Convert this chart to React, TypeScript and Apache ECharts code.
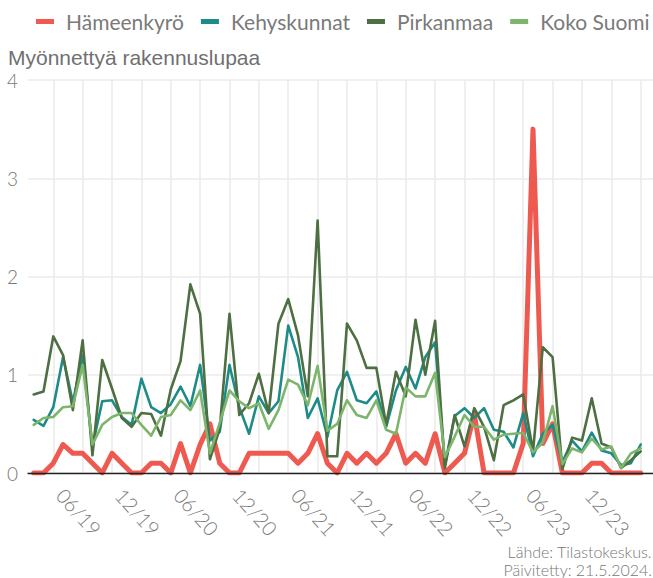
import React, { useEffect, useRef } from "react";
import * as echarts from "echarts";

// Monthly categories, 04/19 ... 06/24 (63 points)
const START_YEAR = 2019;
const START_MONTH = 4;
const N_POINTS = 63;
const months: string[] = [];
for (let i = 0; i < N_POINTS; i++) {
  const m = ((START_MONTH - 1 + i) % 12) + 1;
  const y = START_YEAR + Math.floor((START_MONTH - 1 + i) / 12);
  months.push(`${String(m).padStart(2, "0")}/${String(y % 100).padStart(2, "0")}`);
}

const seriesNames = ["Hämeenkyrö", "Kehyskunnat", "Pirkanmaa", "Koko Suomi"];
const seriesColors = ["#EE5950", "#1D8C88", "#4D6F42", "#7DB56C"];

const hameenkyro = [
  0, 0, 0.1, 0.29, 0.2, 0.2, 0.1, 0, 0.2, 0.1, 0, 0, 0.1, 0.1, 0, 0.3, 0, 0.29, 0.5, 0.1,
  0, 0, 0.2, 0.2, 0.2, 0.2, 0.2, 0.1, 0.2, 0.4, 0.1, 0, 0.2, 0.1, 0.2, 0.1, 0.2, 0.4, 0.1, 0.2,
  0.1, 0.4, 0, 0.1, 0.2, 0.6, 0, 0, 0, 0, 0.3, 3.5, 0.3, 0.5, 0, 0, 0, 0.1, 0.1, 0,
  0, 0, 0,
];
const kehyskunnat = [
  0.54, 0.48, 0.67, 1.18, 0.72, 1.2, 0.27, 0.73, 0.74, 0.57, 0.49, 0.96, 0.67, 0.61, 0.7, 0.88, 0.68, 1.1, 0.33, 0.42,
  1.1, 0.67, 0.4, 0.78, 0.61, 0.73, 1.5, 1.18, 0.56, 0.76, 0.37, 0.84, 1.03, 0.74, 0.71, 0.83, 0.47, 0.84, 1.08, 0.86,
  1.18, 1.33, 0.08, 0.58, 0.66, 0.56, 0.66, 0.44, 0.42, 0.26, 0.61, 0.17, 0.4, 0.49, 0.11, 0.33, 0.22, 0.41, 0.23, 0.2,
  0.08, 0.1, 0.29,
];
const pirkanmaa = [
  0.8, 0.83, 1.39, 1.2, 0.64, 1.35, 0.18, 1.15, 0.86, 0.56, 0.47, 0.61, 0.6, 0.38, 0.85, 1.14, 1.92, 1.62, 0.14, 0.45,
  1.62, 0.59, 0.71, 1.01, 0.61, 1.52, 1.77, 1.4, 0.78, 2.57, 0.17, 0.17, 1.52, 1.35, 1.07, 1.07, 0.49, 1.03, 0.78, 1.56,
  1.0, 1.55, 0.05, 0.59, 0.27, 0.66, 0.47, 0.13, 0.69, 0.74, 0.8, 0.22, 1.28, 1.18, 0.04, 0.36, 0.33, 0.76, 0.3, 0.26,
  0.05, 0.13, 0.22,
];
const kokoSuomi = [
  0.49, 0.56, 0.57, 0.67, 0.68, 1.1, 0.29, 0.49, 0.57, 0.61, 0.61, 0.49, 0.38, 0.57, 0.59, 0.74, 0.64, 0.84, 0.2, 0.51,
  0.84, 0.73, 0.66, 0.71, 0.45, 0.64, 0.95, 0.9, 0.69, 1.09, 0.43, 0.5, 0.74, 0.59, 0.56, 0.74, 0.44, 0.4, 0.87, 0.78,
  0.78, 1.02, 0.16, 0.37, 0.59, 0.47, 0.47, 0.34, 0.39, 0.4, 0.41, 0.21, 0.31, 0.68, 0.09, 0.25, 0.21, 0.35, 0.24, 0.27,
  0.05, 0.2, 0.25,
];
const seriesData = [hameenkyro, kehyskunnat, pirkanmaa, kokoSuomi];
const seriesWidths = [5, 2.6, 2.6, 2.6];

const yTicks = [0, 1, 2, 3, 4];
const titleText = "Myönnettyä rakennuslupaa";
const sourceText = "Lähde: Tilastokeskus.";
const updatedText = "Päivitetty: 21.5.2024.";

export default function App() {
  const ref = useRef<HTMLDivElement>(null);
  useEffect(() => {
    if (!ref.current) return;
    const chart = echarts.init(ref.current, null, { renderer: "svg" });
    const gridTop = 80;
    const gridBottom = 105;
    const option: any = {
      animation: false,
      backgroundColor: "#ffffff",
      textStyle: { fontFamily: "Lato" },
      legend: {
        data: seriesNames,
        left: 31,
        top: 6,
        width: 640,
        icon: "rect",
        itemWidth: 18,
        itemHeight: 5,
        itemGap: 17,
        textStyle: {
          fontFamily: "Lato",
          fontSize: 21,
          color: "#7a7a7a",
          padding: [0, 0, 0, 7],
        },
      },
      graphic: [
        {
          type: "text",
          left: 8,
          top: 47,
          style: {
            text: titleText,
            fontFamily: "Liberation Sans",
            fontSize: 21,
            fill: "#707070",
          },
        },
        {
          type: "text",
          right: 1,
          top: 543,
          style: {
            text: sourceText,
            fontFamily: "Lato",
            fontWeight: 300,
            fontSize: 16,
            fill: "#777777",
            align: "right",
          },
        },
        {
          type: "text",
          right: 1,
          top: 561,
          style: {
            text: updatedText,
            fontFamily: "Lato",
            fontWeight: 300,
            fontSize: 16,
            fill: "#777777",
            align: "right",
          },
        },
      ],
      grid: [
        { left: 28, right: 0, top: gridTop, bottom: gridBottom },
        { left: 33.7, right: 12.3, top: gridTop, bottom: gridBottom },
      ],
      xAxis: [
        {
          type: "value",
          gridIndex: 0,
          min: 0,
          max: 1,
          z: 10,
          axisLine: { show: true, onZero: false, lineStyle: { color: "#222222", width: 1.4 } },
          axisTick: { show: false },
          axisLabel: { show: false },
          splitLine: { show: false },
        },
        {
          type: "category",
          gridIndex: 1,
          data: months,
          boundaryGap: false,
          axisLine: { show: false },
          axisTick: { show: false },
          axisLabel: {
            interval: (i: number) => i % 6 === 2 && i < 60,
            rotate: -48,
            margin: 25,
            align: "left",
            verticalAlign: "bottom",
            fontFamily: "Lato",
            fontWeight: 300,
            fontSize: 20,
            color: "#777777",
          },
          splitLine: {
            show: true,
            interval: (i: number) => i % 3 === 2,
            lineStyle: { color: "#EBEBEB", width: 1.6 },
          },
        },
      ],
      yAxis: [
        {
          type: "value",
          gridIndex: 0,
          min: yTicks[0],
          max: yTicks[yTicks.length - 1],
          interval: 1,
          axisLine: { show: false },
          axisTick: { show: false },
          axisLabel: {
            margin: 10,
            fontFamily: "Lato",
            fontWeight: 300,
            fontSize: 19,
            color: "#777777",
          },
          splitLine: { show: true, lineStyle: { color: "#EBEBEB", width: 1.6 } },
        },
        {
          type: "value",
          gridIndex: 1,
          min: yTicks[0],
          max: yTicks[yTicks.length - 1],
          interval: 1,
          show: false,
          splitLine: { show: false },
        },
      ],
      series: seriesNames.map((name, k) => ({
        name,
        type: "line",
        xAxisIndex: 1,
        yAxisIndex: 1,
        data: seriesData[k],
        showSymbol: false,
        symbol: "none",
        color: seriesColors[k],
        lineStyle: { width: seriesWidths[k], color: seriesColors[k], cap: "round", join: "round" },
        z: 2 + k,
      })),
    };
    chart.setOption(option);
    return () => chart.dispose();
  }, []);
  return (
    <div
      ref={ref}
      style={{ position: "fixed", left: 0, top: 0, width: 653, height: 578 }}
    />
  );
}
